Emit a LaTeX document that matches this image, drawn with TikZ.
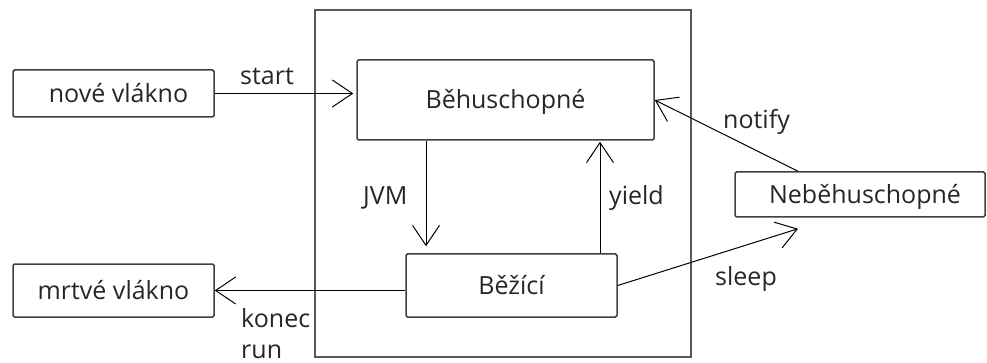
\documentclass[tikz,border=0pt]{standalone}
\usepackage{fontspec}
\setmainfont{Open Sans}
\usetikzlibrary{arrows.meta}
\begin{document}
\begin{tikzpicture}[x=1pt,y=-1pt,
  box/.style={draw=black!75, line width=1.5pt, rounded corners=1.5pt, inner sep=0pt,
    text height=18pt, text depth=0pt, font=\fontsize{25}{30}\selectfont, text=black!85},
  frame/.style={draw=black!65, line width=2pt},
  arr/.style={line width=1pt, black, -{Straight Barb[length=20pt,width=27pt,line width=1pt]}},
  lbl/.style={anchor=base west, inner sep=0pt, font=\fontsize{25}{30}\selectfont, text=black!85}]
\useasboundingbox (0,0) rectangle (987,363);
% outer frame
\node[frame, minimum width=376pt, minimum height=347pt, inner sep=0pt] (outer) at (503,183.5) {};
% state boxes
\node[box, minimum width=201pt, minimum height=47pt] (nove) at (113.5,93.5) {\hspace*{10pt}nové vlákno};
\node[box, minimum width=201pt, minimum height=53pt] (mrtve) at (113.5,290.5) {mrtvé vlákno};
\node[box, minimum width=297pt, minimum height=80pt] (behu) at (505.5,100) {Běhuschopné};
\node[box, minimum width=211pt, minimum height=63pt] (bezici) at (511.5,285.5) {Běžící};
\node[box, minimum width=250pt, minimum height=45pt] (nebehu) at (860,194.5) {\hspace*{10pt}Neběhuschopné};
% connectors
\draw[arr, shorten >=3pt] (nove.east) -- (nove.east -| behu.west);
\draw[arr, shorten >=7pt] ([xshift=-79.5pt]behu.south) -- ([xshift=-85.5pt]bezici.north);
\draw[arr, shorten >=1pt] ([xshift=88.5pt]bezici.north) -- ([xshift=94.5pt]behu.south);
\draw[arr] (bezici.west |- mrtve.east) -- (mrtve.east);
\draw[arr] ([xshift=-62pt]nebehu.north) -- (behu.east);
\draw[arr] (bezici.east) -- ([xshift=-62pt,yshift=-11pt]nebehu.south);
% labels
\node[lbl] (lstart) at (240,85) {start};
\node[lbl] (ljvm) at (363,205) {JVM};
\node[lbl] (lyield) at (609,205) {yield};
\node[lbl] (lnotify) at (723,129) {notify};
\node[lbl] (lsleep) at (715,285) {sleep};
\node[lbl] (lkonec) at (241,327) {konec};
\node[lbl] (lrun) at (241,358) {run};
\end{tikzpicture}
\end{document}
